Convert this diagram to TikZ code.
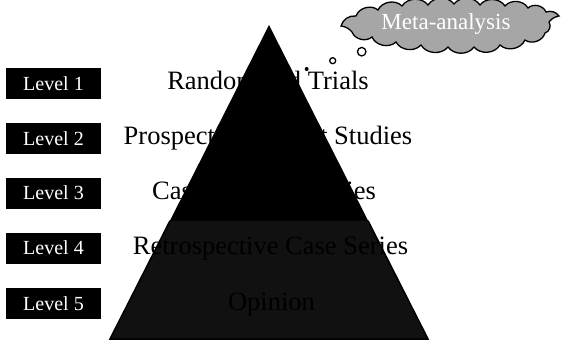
\documentclass[tikz,border=0pt]{standalone}
\usepackage{fontspec}
\setmainfont{Liberation Serif}
\definecolor{darkfill}{HTML}{111111}
\definecolor{cloudgray}{HTML}{A6A6A6}
\begin{document}
\begin{tikzpicture}[x=1pt,y=-1pt,
  levelbox/.style={fill=black,text=white,minimum width=95pt,minimum height=31pt,inner sep=0pt,font=\fontsize{20}{20}\selectfont},
  rowtext/.style={anchor=base,text=black,inner sep=0pt,font=\fontsize{26.5}{26.5}\selectfont},
  puff/.style={bend left=55},
  bubble/.style={circle,draw=black,line width=1.3pt,fill=white,inner sep=0pt}]
\useasboundingbox (0,0) rectangle (563,343);
% pyramid
\fill[black] (269,25) coordinate (apex) -- (110,339) -- (428,339) -- cycle;
\draw[fill=darkfill,line width=1.5pt,line join=miter] (170,220.7) -- (110,339) -- (428,339) -- (368,220.7);
% level boxes
\foreach \i/\y in {1/83.5,2/138.5,3/193,4/248,5/303.5}{
  \node[levelbox] (L\i) at (53.5,\y) {Level \i};
}
% row texts
\node[rowtext] (t1) at (268,89.8) {Randomized Trials};
\node[rowtext] (t2) at (268,144.8) {Prospective Cohort Studies};
\node[rowtext] (t3) at (264,199.5) {Case Control Studies};
\node[rowtext] (t4) at (270.5,254.5) {Retrospective Case Series};
\node[rowtext] (t5) at (271.5,310) {Opinion};
% cloud
\draw[line width=1.3pt,fill=cloudgray,line join=miter]
  (341,26) to[bend left=40] (356,16) to[puff] (378,10) to[puff] (402,6) to[puff] (428,5)
  to[puff] (454,4) to[puff] (480,5) to[puff] (505,6) to[puff] (528,8) to[puff] (546,12)
  to[bend left=35] (559,16) to[bend right=20] (549,22) to[puff] (545,33) to[puff] (525,40)
  to[puff] (500,45) to[puff] (474,47) to[puff] (448,47) to[puff] (421,45) to[puff] (396,42)
  to[puff] (372,37) to[puff] (352,32) to[bend right=20] cycle;
\node[text=white,inner sep=0pt,font=\fontsize{23}{23}\selectfont] (meta) at (446,24) {Meta-analysis};
\node[bubble,minimum size=8.5pt] (b1) at (361.7,51.7) {};
\node[bubble,minimum size=6pt] (b2) at (332.7,60.7) {};
\node[circle,fill=black,minimum size=4pt,inner sep=0pt] (b3) at (306.7,69) {};
\end{tikzpicture}
\end{document}
